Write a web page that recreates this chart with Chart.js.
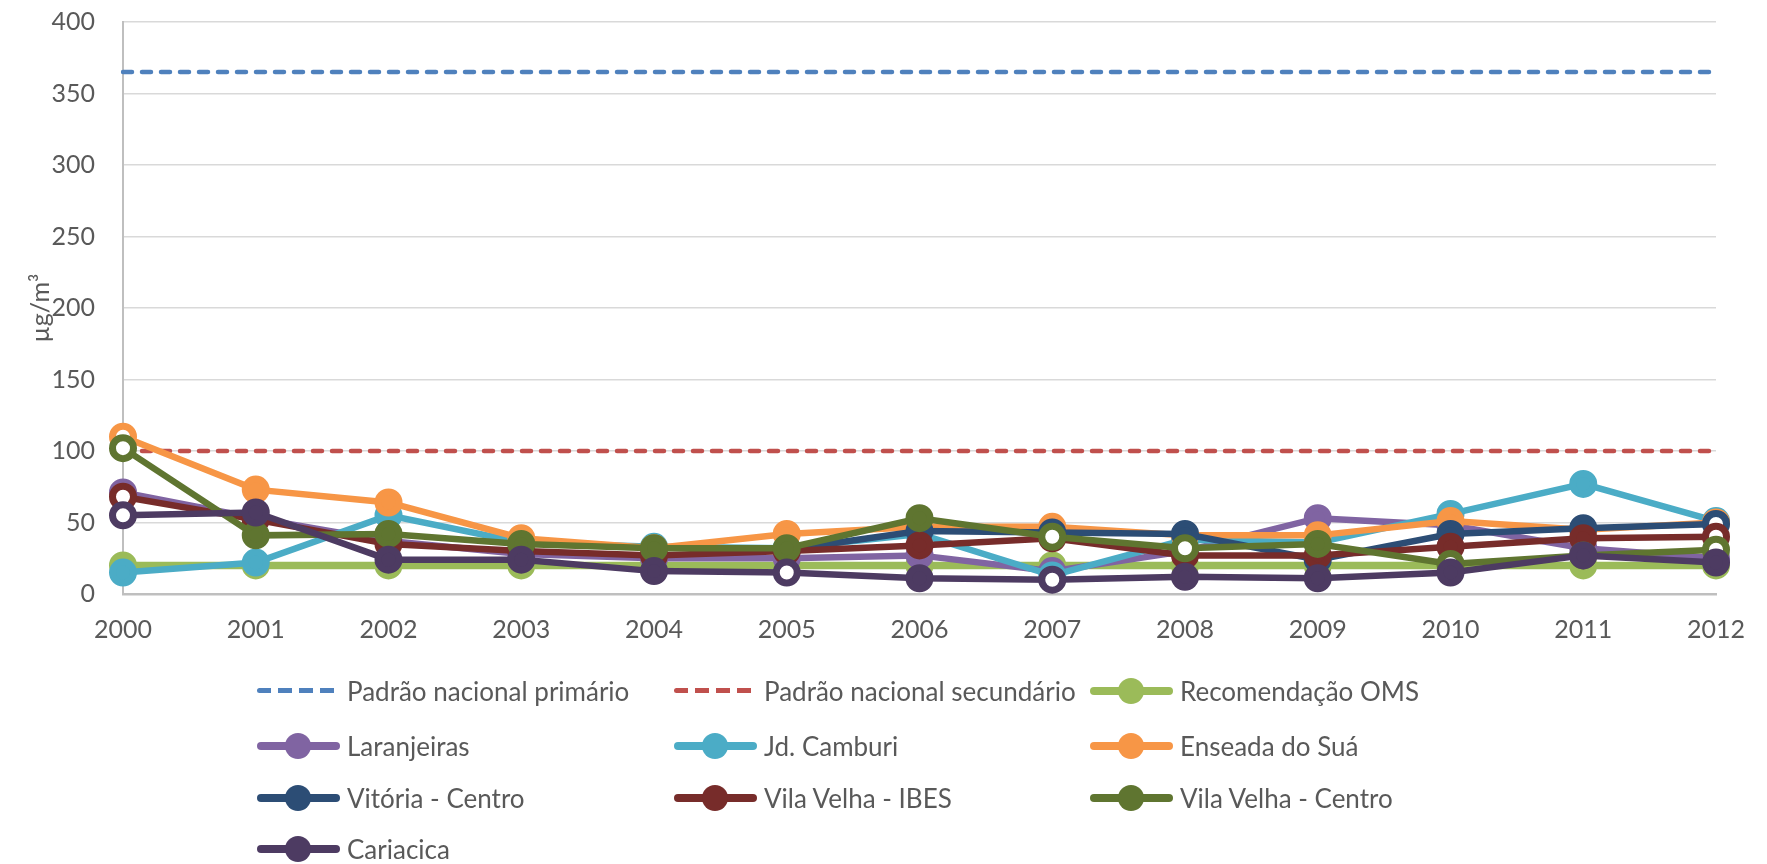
<!DOCTYPE html>
<html lang="pt-BR">
<head>
<meta charset="utf-8">
<title>Concentração anual - µg/m³</title>
<script src="https://cdn.jsdelivr.net/npm/chart.js@4.4.1/dist/chart.umd.min.js"></script>
<style>
  body { margin: 0; background: #fff; font-family: Lato, "Open Sans", sans-serif; }
  #wrap { position: relative; width: 1767px; height: 864px; }
  #grafico { position: absolute; left: 0; top: 0; }
  #legenda { position: absolute; left: 0; top: 0; width: 1767px; height: 864px; }
  .item { position: absolute; height: 30px; display: flex; align-items: center; color: #595959; font-size: 26px; white-space: nowrap; }
  .simbolo { position: relative; width: 83px; height: 30px; margin-right: 7px; flex: none; }
  .simbolo .linha { position: absolute; left: 0; right: 0; top: 11px; height: 8px; border-radius: 4px; }
  .simbolo .ponto { position: absolute; left: 28px; top: 2px; width: 26px; height: 26px; border-radius: 50%; }
</style>
</head>
<body>
<div id="wrap">
  <canvas id="grafico" width="1767" height="651"></canvas>
  <div id="legenda"></div>
</div>
<script>
const anos = ['2000', '2001', '2002', '2003', '2004', '2005', '2006', '2007', '2008', '2009', '2010', '2011', '2012'];
const ticksY = [0, 50, 100, 150, 200, 250, 300, 350, 400];

const padraoPrimario   = [365, 365, 365, 365, 365, 365, 365, 365, 365, 365, 365, 365, 365];
const padraoSecundario = [100, 100, 100, 100, 100, 100, 100, 100, 100, 100, 100, 100, 100];
const recomendacaoOMS  = [20, 20, 20, 20, 20, 20, 20, 20, 20, 20, 20, 20, 20];

const laranjeiras = [71, 53, 37, 28, 25, 25, 27, 16, 30, 53, 48, 32, 25];
const jdCamburi   = [15, 22, 55, 36, 33, 32, 42, 13, 38, 36, 56, 77, 51];
const enseada     = [110, 73, 64, 39, 32, 42, 47, 47, 41, 41, 51, 45, 50];
const vitoria     = [null, null, null, null, null, 31, 44, 43, 42, 24, 42, 46, 49];
const vvIbes      = [68, 52, 35, 30, 27, 30, 34, 39, 27, 27, 33, 39, 40];
const vvCentro    = [102, 41, 42, 35, 32, 32, 53, 40, 32, 35, 21, 27, 31];
const cariacica   = [55, 57, 24, 24, 16, 15, 11, 10, 12, 11, 15, 27, 22];

// anos em que o marcador aparece vazado
const abertos = {
  'Enseada do Suá': ['2000', '2012'],
  'Vitória - Centro': ['2012'],
  'Vila Velha - IBES': ['2000', '2012'],
  'Vila Velha - Centro': ['2000', '2007', '2008', '2010', '2012'],
  'Cariacica': ['2000', '2005', '2007']
};

const series = [
  { nome: 'Padrão nacional primário', dados: padraoPrimario, cor: '#4F81BD', tracejado: true },
  { nome: 'Padrão nacional secundário', dados: padraoSecundario, cor: '#C0504D', tracejado: true },
  { nome: 'Recomendação OMS', dados: recomendacaoOMS, cor: '#9BBB59', largura: 7.5 },
  { nome: 'Laranjeiras', dados: laranjeiras, cor: '#8064A2' },
  { nome: 'Jd. Camburi', dados: jdCamburi, cor: '#4BACC6' },
  { nome: 'Enseada do Suá', dados: enseada, cor: '#F79646' },
  { nome: 'Vitória - Centro', dados: vitoria, cor: '#2C4D75' },
  { nome: 'Vila Velha - IBES', dados: vvIbes, cor: '#772C2A' },
  { nome: 'Vila Velha - Centro', dados: vvCentro, cor: '#5F7530' },
  { nome: 'Cariacica', dados: cariacica, cor: '#4D3B62' }
];

const texto = '#595959';

function montarDataset(s) {
  if (s.tracejado) {
    return {
      label: s.nome, data: s.dados, borderColor: s.cor, borderWidth: 4.5,
      borderDash: [9, 10], borderCapStyle: 'round', pointRadius: 0, pointHoverRadius: 0,
      fill: false, tension: 0
    };
  }
  const vazados = abertos[s.nome] || [];
  return {
    label: s.nome, data: s.dados, borderColor: s.cor, backgroundColor: s.cor,
    borderWidth: s.largura || 6.5, pointRadius: 10.5, pointHoverRadius: 10.5, pointBorderWidth: 7,
    pointBorderColor: s.cor,
    pointBackgroundColor: anos.map(a => vazados.includes(a) ? '#ffffff' : s.cor),
    fill: false, tension: 0, spanGaps: false
  };
}

// o chart.js desenha o primeiro dataset por cima, então invertemos a lista
const datasets = series.map(montarDataset).reverse();

new Chart(document.getElementById('grafico').getContext('2d'), {
  type: 'line',
  data: { labels: anos, datasets: datasets },
  options: {
    responsive: false,
    animation: false,
    events: [],
    layout: { padding: { top: 22, left: 0, right: 51, bottom: 0 } },
    plugins: { legend: { display: false }, tooltip: { enabled: false } },
    scales: {
      x: {
        offset: false,
        grid: { display: false, drawTicks: false },
        border: { display: true, color: '#BFBFBF', width: 2.5 },
        ticks: { color: texto, font: { family: 'Lato', size: 25 }, padding: 21, maxRotation: 0, autoSkip: false },
        afterFit: (scale) => { scale.height = 57; }
      },
      y: {
        min: ticksY[0],
        max: ticksY[ticksY.length - 1],
        afterBuildTicks: (scale) => { scale.ticks = ticksY.map(v => ({ value: v })); },
        grid: { color: '#D9D9D9', lineWidth: 1.5, drawTicks: false },
        border: { display: true, color: '#BFBFBF', width: 2 },
        ticks: { color: texto, font: { family: 'Lato', size: 25 }, padding: 28 },
        title: { display: true, text: 'µg/m³', color: texto, font: { family: 'Lato', size: 25 }, padding: { top: 26, bottom: 0 } },
        afterFit: (scale) => {
          scale.width = 123;
          scale.paddingTop = 0;
          scale.paddingBottom = 0;
        }
      }
    }
  }
});

// legenda em grade de 3 colunas
const legenda = document.getElementById('legenda');
const colunasX = [257, 674, 1090];
const linhasY = [691, 746, 798, 849];
series.forEach((s, i) => {
  const item = document.createElement('div');
  item.className = 'item';
  item.style.left = colunasX[i % 3] + 'px';
  item.style.top = (linhasY[Math.floor(i / 3)] - 15) + 'px';
  const simb = document.createElement('div');
  simb.className = 'simbolo';
  const linha = document.createElement('div');
  linha.className = 'linha';
  if (s.tracejado) {
    linha.style.top = '12px';
    linha.style.height = '5px';
    linha.style.background = `repeating-linear-gradient(90deg, ${s.cor} 0 14px, transparent 14px 21px)`;
  } else {
    linha.style.background = s.cor;
  }
  simb.appendChild(linha);
  if (!s.tracejado) {
    const ponto = document.createElement('div');
    ponto.className = 'ponto';
    ponto.style.background = s.cor;
    simb.appendChild(ponto);
  }
  const rot = document.createElement('span');
  rot.textContent = s.nome;
  item.appendChild(simb);
  item.appendChild(rot);
  legenda.appendChild(item);
});
</script>
</body>
</html>
